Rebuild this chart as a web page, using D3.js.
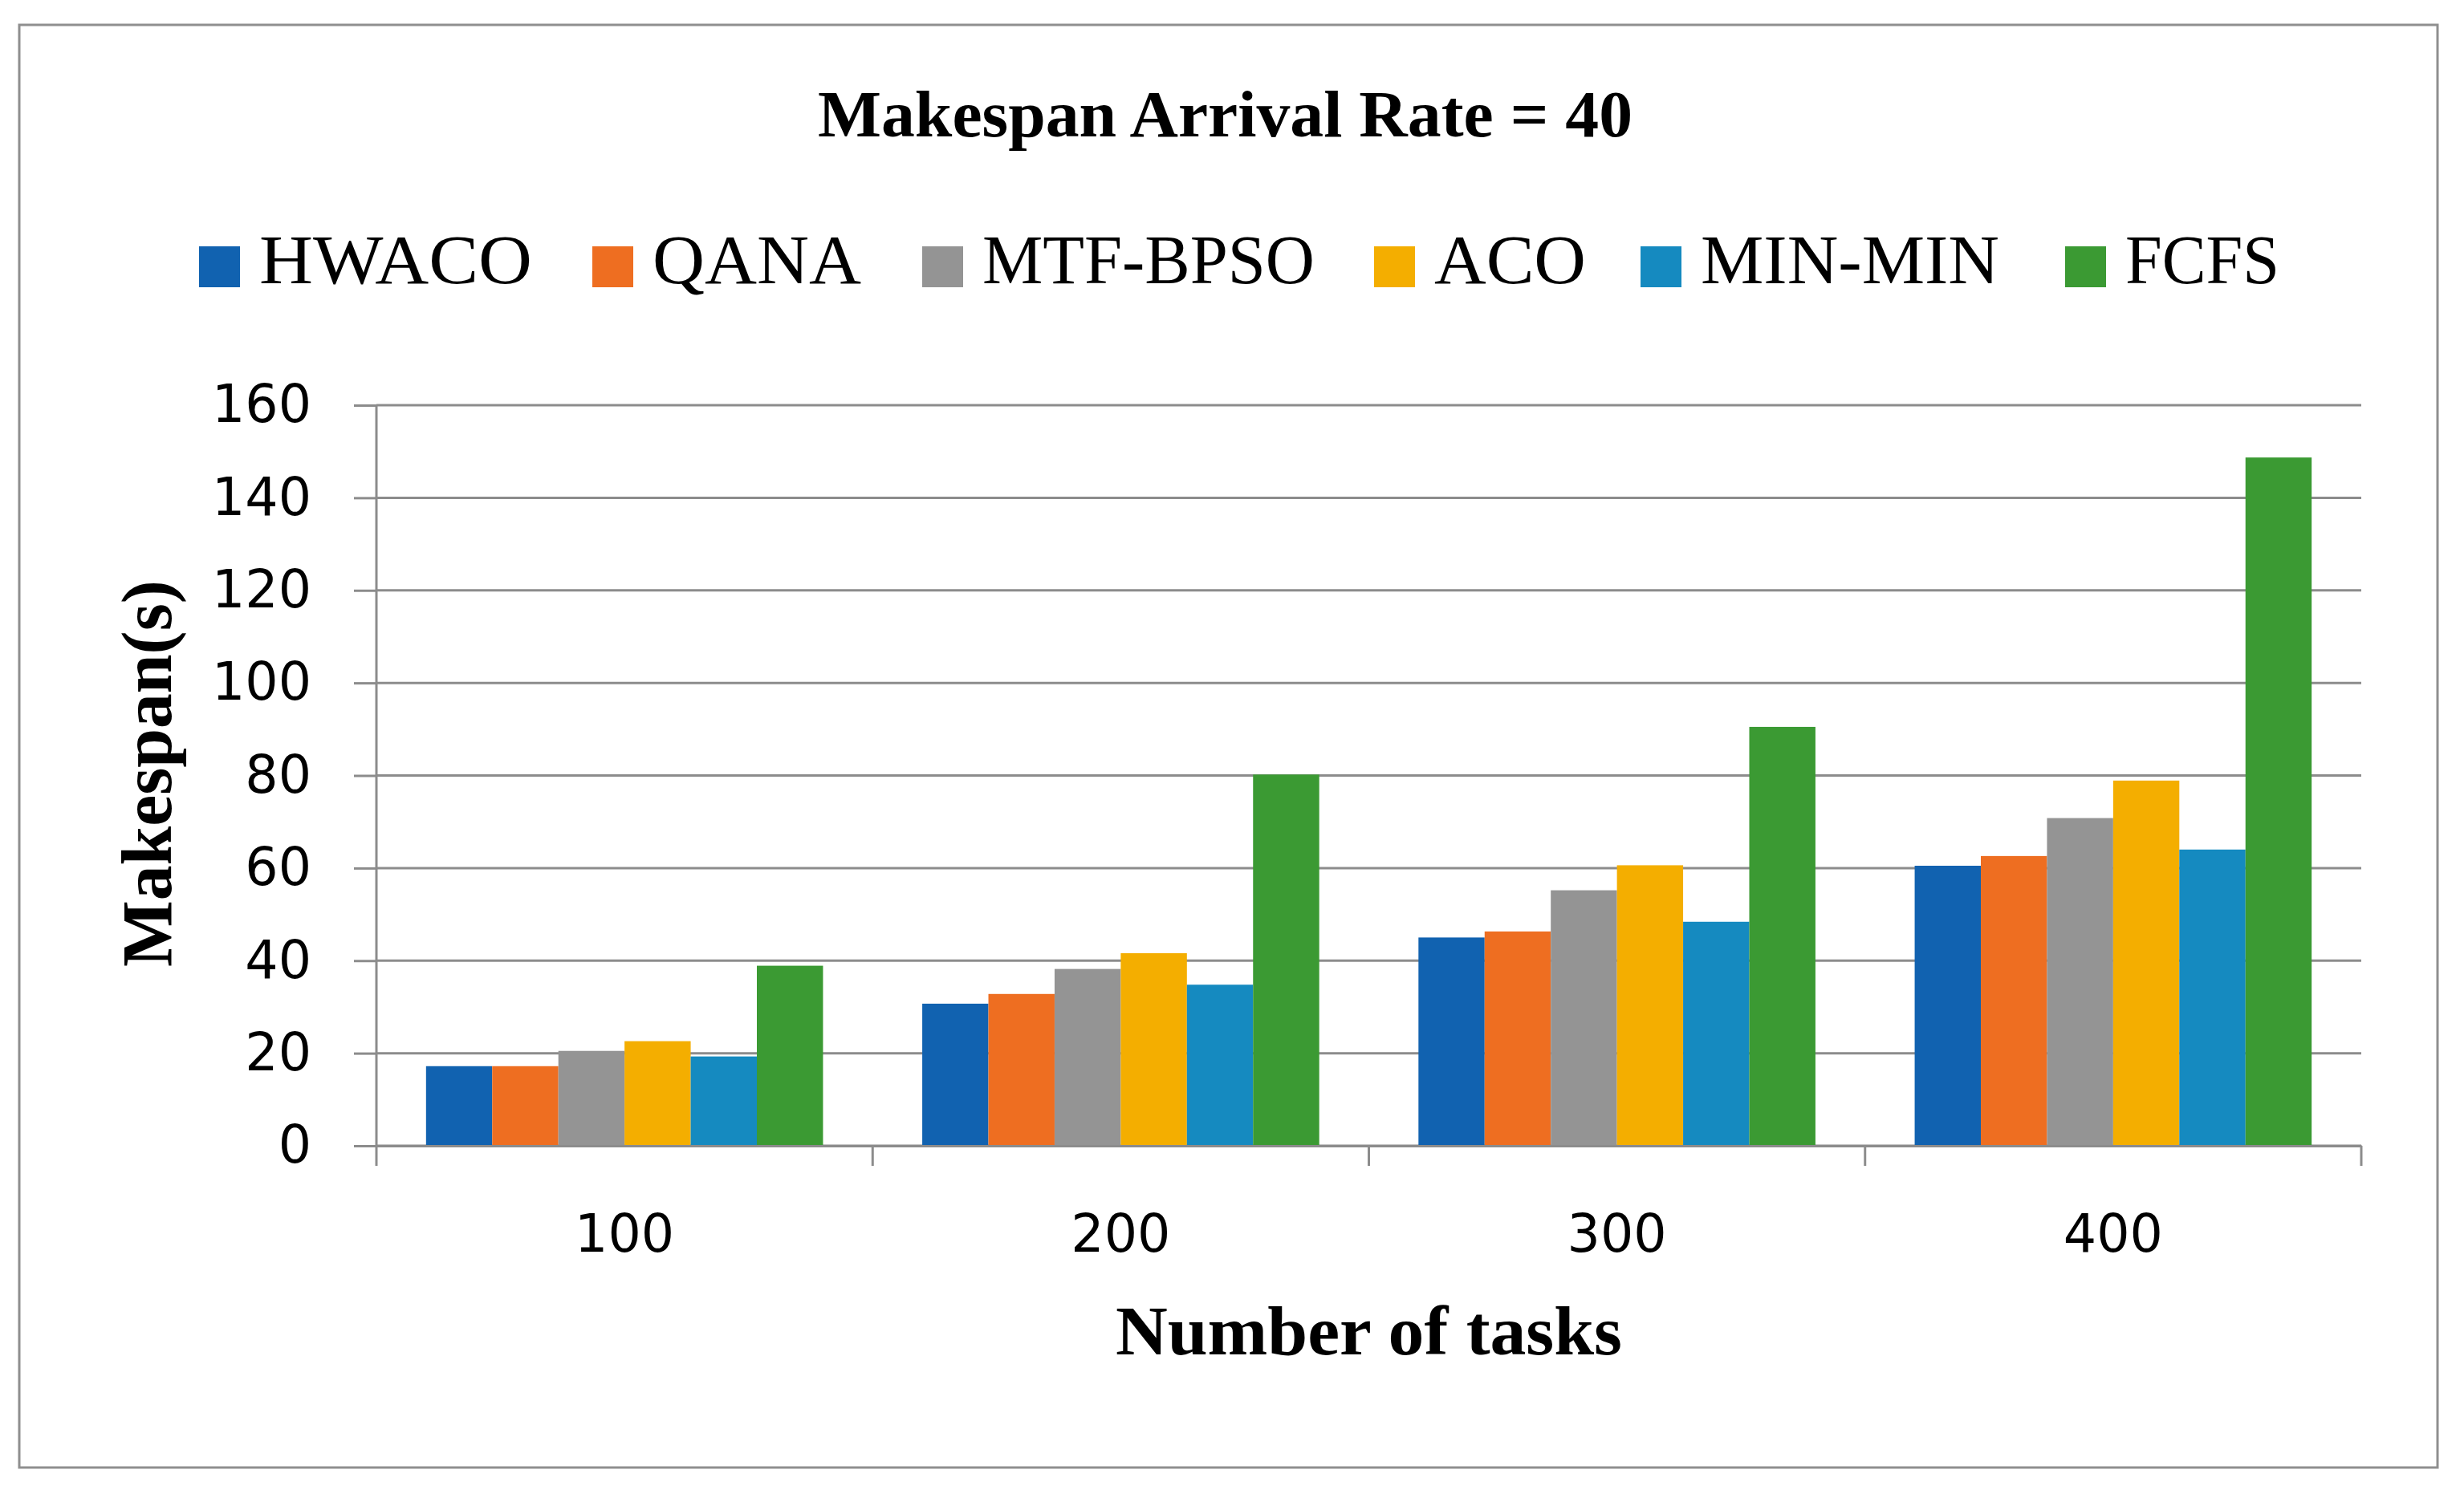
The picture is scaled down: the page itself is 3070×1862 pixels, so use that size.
<!DOCTYPE html>
<html>
<head>
<meta charset="utf-8">
<script src="https://cdn.jsdelivr.net/npm/d3@7"></script>
<style>
  html, body { margin: 0; padding: 0; background: #ffffff; }
  #chart { width: 3070px; height: 1862px; }
</style>
</head>
<body>
<div id="chart"></div>
<script>
// Makespan Arrival Rate = 40 : grouped bar chart

var tasks = ["100", "200", "300", "400"];
var algorithms = ["HWACO", "QANA", "MTF-BPSO", "ACO", "MIN-MIN", "FCFS"];
var colors = ["#1162b0", "#ee6e21", "#949494", "#f4ae00", "#158ac0", "#3b9a33"];

// values read per algorithm, in tasks order
var hwaco   = [17.2, 30.7, 45.0, 60.5];
var qana    = [17.2, 32.8, 46.3, 62.6];
var mtfbpso = [20.5, 38.2, 55.2, 70.8];
var aco     = [22.6, 41.6, 60.6, 78.9];
var minmin  = [19.3, 34.8, 48.4, 64.0];
var fcfs    = [38.9, 80.2, 90.5, 148.7];

var yTicks = [0, 20, 40, 60, 80, 100, 120, 140, 160];

var seriesValues = [hwaco, qana, mtfbpso, aco, minmin, fcfs];

(function() {

    var width = 3070;
    var height = 1862;

    var plot = { left: 469, right: 2942, top: 505, bottom: 1428 };

    var svg = d3.select("#chart")
        .append("svg")
        .attr("width", width)
        .attr("height", height);

    svg.append("rect")
        .attr("width", width)
        .attr("height", height)
        .attr("fill", "#ffffff");

    // outer frame
    svg.append("rect")
        .attr("x", 24)
        .attr("y", 31)
        .attr("width", 3037 - 24)
        .attr("height", 1829 - 31)
        .attr("fill", "none")
        .attr("stroke", "#8f8f8f")
        .attr("stroke-width", 3);

    var serif = "'Liberation Serif', 'Times New Roman', serif";
    var sans = "'DejaVu Sans', Verdana, sans-serif";

    // title
    svg.append("text")
        .attr("x", 1019)
        .attr("y", 170)
        .attr("font-family", serif)
        .attr("font-weight", "bold")
        .attr("font-size", "82px")
        .attr("fill", "#000000")
        .attr("textLength", 1015)
        .attr("lengthAdjust", "spacingAndGlyphs")
        .text("Makespan Arrival Rate = 40");

    // legend
    var legendSwatchX = [248, 738, 1149, 1712, 2044, 2573];
    var legendTextW = [340, 260, 414, 189, 372, 192];

    var legend = svg.selectAll(".legend-item")
        .data(algorithms)
        .enter()
        .append("g")
        .attr("class", "legend-item")
        .attr("transform", function(d, i) {
            return "translate(" + legendSwatchX[i] + ",0)";
        });

    legend.append("rect")
        .attr("x", 0)
        .attr("y", 307)
        .attr("width", 51)
        .attr("height", 51)
        .attr("fill", function(d, i) { return colors[i]; });

    legend.append("text")
        .attr("x", 75)
        .attr("y", 353)
        .attr("font-family", serif)
        .attr("font-size", "86px")
        .attr("fill", "#000000")
        .attr("textLength", function(d, i) { return legendTextW[i]; })
        .attr("lengthAdjust", "spacingAndGlyphs")
        .text(function(d) { return d; });

    // scales
    var x0 = d3.scaleBand()
        .domain(tasks)
        .range([plot.left, plot.right])
        .paddingInner(0.2)
        .paddingOuter(0.1);

    var x1 = d3.scaleBand()
        .domain(algorithms)
        .range([0, x0.bandwidth()]);

    var y = d3.scaleLinear()
        .domain([0, 160])
        .range([plot.bottom, plot.top]);

    // gridlines
    svg.selectAll(".grid-line")
        .data(yTicks)
        .enter()
        .append("line")
        .attr("x1", plot.left)
        .attr("x2", plot.right)
        .attr("y1", function(d) { return y(d); })
        .attr("y2", function(d) { return y(d); })
        .attr("stroke", "#8c8c8c")
        .attr("stroke-width", 3);

    // y axis
    var yAxis = d3.axisLeft(y)
        .tickValues(yTicks)
        .tickSize(28)
        .tickSizeOuter(0)
        .tickPadding(53);

    var yAxisG = svg.append("g")
        .attr("transform", "translate(" + plot.left + ",0)")
        .call(yAxis);

    yAxisG.select(".domain").remove();
    yAxisG.selectAll(".tick line")
        .attr("stroke", "#8c8c8c")
        .attr("stroke-width", 3);
    yAxisG.selectAll(".tick text")
        .attr("font-family", sans)
        .attr("font-size", "65px")
        .attr("fill", "#000000");

    // bars
    var groups = svg.selectAll(".task-group")
        .data(tasks)
        .enter()
        .append("g")
        .attr("class", "task-group")
        .attr("transform", function(d) {
            return "translate(" + x0(d) + ",0)";
        });

    groups.selectAll("rect")
        .data(function(d, ti) {
            return algorithms.map(function(a, ai) {
                return { alg: a, value: seriesValues[ai][ti], color: colors[ai] };
            });
        })
        .enter()
        .append("rect")
        .attr("x", function(d) { return x1(d.alg); })
        .attr("y", function(d) { return y(d.value); })
        .attr("width", x1.bandwidth())
        .attr("height", function(d) { return y(0) - y(d.value); })
        .attr("fill", function(d) { return d.color; });

    // y axis line
    svg.append("line")
        .attr("x1", plot.left)
        .attr("x2", plot.left)
        .attr("y1", plot.top)
        .attr("y2", plot.bottom)
        .attr("stroke", "#8c8c8c")
        .attr("stroke-width", 3);

    // x axis
    var xAxis = d3.axisBottom(x0)
        .tickSize(0)
        .tickSizeOuter(0)
        .tickPadding(0);

    var xAxisG = svg.append("g")
        .attr("transform", "translate(0," + plot.bottom + ")")
        .call(xAxis);

    xAxisG.select(".domain")
        .attr("stroke", "#8c8c8c")
        .attr("stroke-width", 3);

    xAxisG.selectAll(".tick text")
        .attr("y", 132)
        .attr("dy", 0)
        .attr("font-family", sans)
        .attr("font-size", "65px")
        .attr("fill", "#000000");

    // category boundary ticks
    var boundaries = d3.range(tasks.length + 1);

    svg.selectAll(".boundary-tick")
        .data(boundaries)
        .enter()
        .append("line")
        .attr("x1", function(i) { return plot.left + i * x0.step(); })
        .attr("x2", function(i) { return plot.left + i * x0.step(); })
        .attr("y1", plot.bottom)
        .attr("y2", plot.bottom + 25)
        .attr("stroke", "#8c8c8c")
        .attr("stroke-width", 3);

    // axis titles
    svg.append("text")
        .attr("x", (plot.left + plot.right) / 2)
        .attr("y", 1688)
        .attr("text-anchor", "middle")
        .attr("font-family", serif)
        .attr("font-weight", "bold")
        .attr("font-size", "86px")
        .attr("fill", "#000000")
        .attr("textLength", 631)
        .attr("lengthAdjust", "spacingAndGlyphs")
        .text("Number of tasks");

    svg.append("text")
        .attr("transform", "translate(213,964) rotate(-90)")
        .attr("text-anchor", "middle")
        .attr("font-family", serif)
        .attr("font-weight", "bold")
        .attr("font-size", "88px")
        .attr("fill", "#000000")
        .attr("textLength", 482)
        .attr("lengthAdjust", "spacingAndGlyphs")
        .text("Makespan(s)");

})();
</script>
</body>
</html>
